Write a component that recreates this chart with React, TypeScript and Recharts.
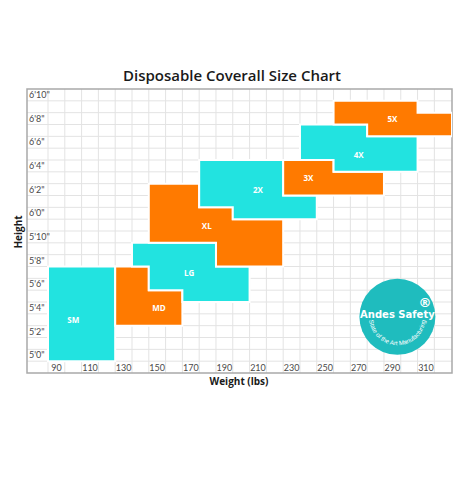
import React from 'react';
import {
  ScatterChart,
  Scatter,
  XAxis,
  YAxis,
  CartesianGrid,
  ReferenceArea,
  ReferenceDot,
} from 'recharts';

// ---- axis ticks / labels ----
const weightTicks = [90, 110, 130, 150, 170, 190, 210, 230, 250, 270, 290, 310];
const heightTicks = [60, 62, 64, 66, 68, 70, 72, 74, 76, 78, 80, 82];
const heightLabels = ['5\'0"', '5\'2"', '5\'4"', '5\'6"', '5\'8"', '5\'10"', '6\'0"', '6\'2"', '6\'4"', '6\'6"', '6\'8"', '6\'10"'];

// ---- grid cell boundaries (lbs / inches) ----
const gridWeights = [85, 95, 105, 115, 125, 135, 145, 155, 165, 175, 185, 195, 205, 215, 225, 235, 245, 255, 265, 275, 285, 295, 305, 315];
const gridHeights = [59.5, 60.5, 61.5, 62.5, 63.5, 64.5, 65.5, 66.5, 67.5, 68.5, 69.5, 70.5, 71.5, 72.5, 73.5, 74.5, 75.5, 76.5, 77.5, 78.5, 79.5, 80.5, 81.5];

// ---- size regions: [weight, height-in-inches] outline vertices ----
const smShape = [[85, 59.5], [125, 59.5], [125, 67.5], [85, 67.5]];
const mdShape = [[125, 67.5], [145, 67.5], [145, 65.5], [165, 65.5], [165, 62.5], [125, 62.5]];
const lgShape = [[135, 69.5], [185, 69.5], [185, 67.5], [205, 67.5], [205, 64.5], [165, 64.5], [165, 65.5], [145, 65.5], [145, 67.5], [135, 67.5]];
const xlShape = [[145, 74.5], [175, 74.5], [175, 72.5], [195, 72.5], [195, 71.5], [225, 71.5], [225, 67.5], [185, 67.5], [185, 69.5], [145, 69.5]];
const x2Shape = [[175, 76.5], [225, 76.5], [225, 73.5], [245, 73.5], [245, 71.5], [195, 71.5], [195, 72.5], [175, 72.5]];
const x3Shape = [[225, 76.5], [255, 76.5], [255, 75.5], [285, 75.5], [285, 73.5], [225, 73.5]];
const x4Shape = [[235, 79.5], [275, 79.5], [275, 78.5], [305, 78.5], [305, 75.5], [255, 75.5], [255, 76.5], [235, 76.5]];
const x5Shape = [[255, 81.5], [305, 81.5], [305, 80.5], [325.5, 80.5], [325.5, 78.5], [275, 78.5], [275, 79.5], [255, 79.5]];

const sizeNames = ['SM', 'MD', 'LG', 'XL', '2X', '3X', '4X', '5X'];
const sizeShapes = [smShape, mdShape, lgShape, xlShape, x2Shape, x3Shape, x4Shape, x5Shape];
const labelWeights = [100, 151, 169, 179.5, 210, 240, 270, 290];
const labelHeights = [63, 64, 67, 71, 74, 75, 77, 80];

const CYAN = '#22E3E0';
const ORANGE = '#FF7A00';
const sizeColors = [CYAN, ORANGE, CYAN, ORANGE, CYAN, ORANGE, CYAN, ORANGE];

const labelData = sizeNames.map((t, i) => ({ w: labelWeights[i], h: labelHeights[i], t }));

const Hidden = () => <g />;

const LabelShape = (p: any) => (
  <text
    x={p.cx}
    y={p.cy}
    textAnchor="middle"
    dominantBaseline="central"
    fill="#ffffff"
    fontFamily="'Open Sans', sans-serif"
    fontWeight={700}
    fontSize={8}
  >
    {p.payload.t}
  </text>
);

const Logo = (p: any) => {
  const { cx, cy } = p;
  const r = 38;
  const tr = 28.5;
  const d = `M ${cx - tr} ${cy} A ${tr} ${tr} 0 0 0 ${cx + tr} ${cy}`;
  return (
    <g>
      <circle cx={cx} cy={cy} r={r} fill="#1FBCBE" />
      <defs>
        <path id="logoArc" d={d} />
      </defs>
      <text
        x={cx}
        y={cy + 1.5}
        textAnchor="middle"
        fill="#ffffff"
        fontFamily="'DejaVu Sans', sans-serif"
        fontWeight={700}
        fontSize={10}
      >
        Andes Safety
      </text>
      <text
        x={cx + 27.5}
        y={cy - 9.5}
        textAnchor="middle"
        fill="#ffffff"
        fontFamily="'DejaVu Sans', sans-serif"
        fontWeight={700}
        fontSize={13}
      >
        ®
      </text>
      <text fill="#ffffff" fontFamily="'Liberation Sans', sans-serif" fontSize={6.2}>
        <textPath href="#logoArc" startOffset="50%" textAnchor="middle">
          State of the Art Manufacturing
        </textPath>
      </text>
    </g>
  );
};

const tickStyle = { fontSize: 9, fill: '#4a4a4a', fontFamily: 'Lato, sans-serif' };

export default function App() {
  return (
    <div style={{ position: 'absolute', left: 0, top: 0, width: 466, height: 500, background: '#ffffff' }}>
      <ScatterChart width={466} height={500} margin={{ top: 89, right: 14, bottom: 127, left: 27 }}>
        <CartesianGrid
          stroke="#e3e3e3"
          strokeWidth={1}
          verticalValues={gridWeights}
          horizontalValues={gridHeights}
        />
        <XAxis
          type="number"
          dataKey="w"
          domain={[72.5, 325.5]}
          allowDataOverflow
          ticks={weightTicks}
          interval={0}
          mirror
          tickLine={false}
          axisLine={false}
          tickSize={0}
          tickMargin={2}
          tick={tickStyle}
        />
        <YAxis
          type="number"
          dataKey="h"
          domain={[58.5, 82.5]}
          allowDataOverflow
          ticks={heightTicks}
          interval={0}
          tickFormatter={(v: number) => heightLabels[heightTicks.indexOf(v)]}
          mirror
          tickLine={false}
          axisLine={false}
          tickSize={0}
          tickMargin={2}
          tick={tickStyle}
        />
        <ReferenceArea x1={72.5} x2={325.5} y1={58.5} y2={82.5} fill="none" stroke="#a9a9a9" strokeWidth={1.5} />
        {sizeShapes.map((s, i) => (
          <Scatter
            key={sizeNames[i]}
            name={sizeNames[i]}
            data={s.map(([w, h]) => ({ w, h }))}
            isAnimationActive={false}
            shape={Hidden}
            lineType="joint"
            line={(lp: any) => (
              <polygon
                points={lp.points.map((pt: any) => `${pt.x},${pt.y}`).join(' ')}
                fill={sizeColors[i]}
                stroke="#ffffff"
                strokeWidth={2}
              />
            )}
          />
        ))}
        <Scatter data={labelData} isAnimationActive={false} shape={LabelShape} />
        <ReferenceDot x={293} y={63.25} shape={Logo} />
      </ScatterChart>
      <svg
        width={466}
        height={500}
        style={{ position: 'absolute', left: 0, top: 0, pointerEvents: 'none' }}
      >
        <text
          x={232}
          y={81}
          textAnchor="middle"
          fill="#1a1a1a"
          fontFamily="'Open Sans', sans-serif"
          fontWeight={600}
          fontSize={15}
        >
          Disposable Coverall Size Chart
        </text>
        <text
          x={239}
          y={384.5}
          textAnchor="middle"
          fill="#1a1a1a"
          fontFamily="'Open Sans', sans-serif"
          fontWeight={700}
          fontSize={10}
        >
          Weight (lbs)
        </text>
        <text
          x={21.5}
          y={232}
          textAnchor="middle"
          transform="rotate(-90 21.5 232)"
          fill="#1a1a1a"
          fontFamily="'Open Sans', sans-serif"
          fontWeight={700}
          fontSize={10}
        >
          Height
        </text>
      </svg>
    </div>
  );
}
